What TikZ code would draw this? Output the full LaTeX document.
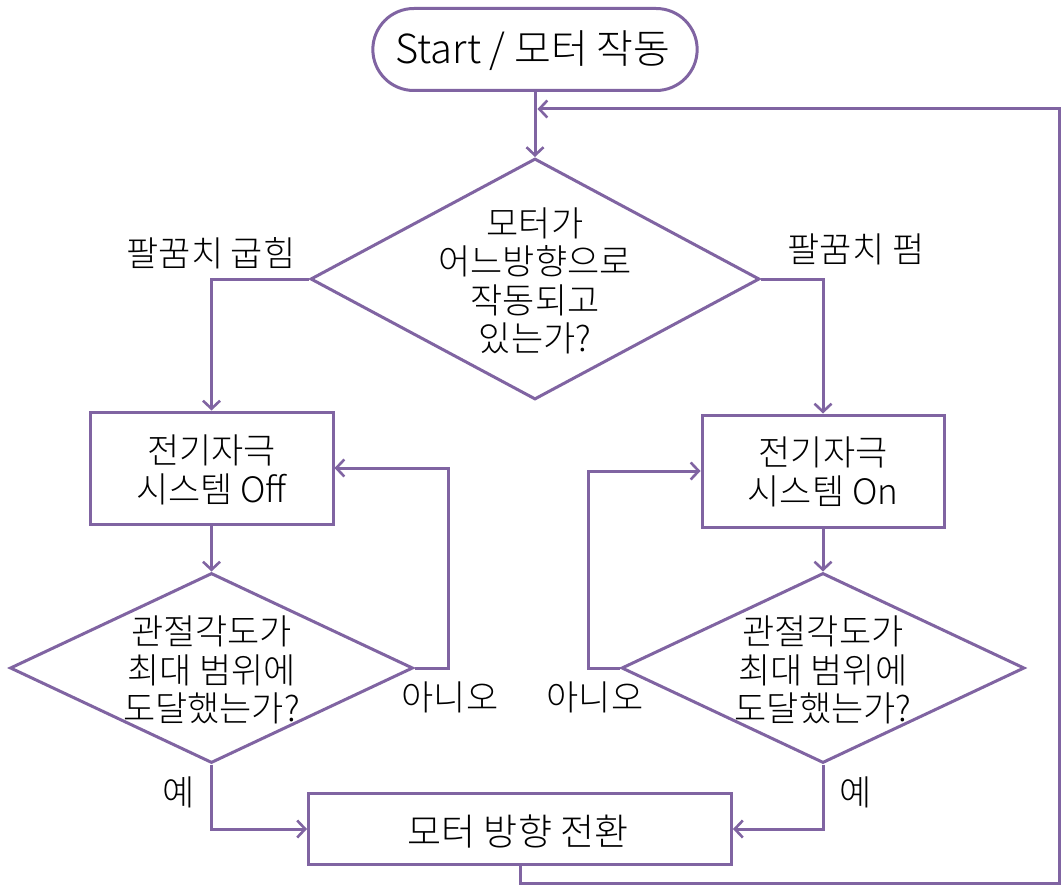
\documentclass[tikz,border=0pt]{standalone}
\usepackage{fontspec}
\setmainfont{Noto Sans CJK KR Light}
\usetikzlibrary{shapes.geometric,shapes.misc,arrows.meta}
\definecolor{pur}{RGB}{128,100,162}
\tikzset{
  x=1pt, y=-1pt,
  txt/.style={font=\fontsize{35}{38.5}\selectfont, align=center, inner sep=0pt, text=black},
  boxst/.style={draw=pur, line width=3pt, rectangle, fill=white},
  dia/.style={draw=pur, line width=3pt, diamond, inner sep=0pt},
  term/.style={draw=pur, line width=3pt, rounded rectangle, fill=white},
  conn/.style={draw=pur, line width=3pt},
  arr/.style={conn, -{Straight Barb[length=8pt,width=17pt,line width=2.6pt]}},
}
\begin{document}
\begin{tikzpicture}
\fill[white] (0,0) rectangle (1061,888);
\useasboundingbox (0,0) rectangle (1061,888);

% nodes
\node[term, minimum width=331pt, minimum height=82pt] (start) at (535,49.5) {};
\node[txt, font=\fontsize{40}{44}\selectfont] (startt) at (533,51) {Start / 모터 작동};

\node[dia, minimum width=449pt, minimum height=241pt] (d1) at (535,279) {};
\node[txt] (d1t) at (535,281) {모터가\\어느방향으로\\작동되고\\있는가?};

\node[boxst, minimum width=243pt, minimum height=112pt] (lbox) at (211.5,468) {};
\node[txt] (lboxt) at (211.5,470) {전기자극\\시스템 Off};

\node[boxst, minimum width=242pt, minimum height=112pt] (rbox) at (823,471) {};
\node[txt] (rboxt) at (823,472) {전기자극\\시스템 On};

\node[dia, minimum width=403pt, minimum height=190pt] (ld) at (211.5,668) {};
\node[txt] (ldt) at (211.5,670) {관절각도가\\최대 범위에\\도달했는가?};

\node[dia, minimum width=403pt, minimum height=190pt] (rd) at (823,668) {};
\node[txt] (rdt) at (823,670) {관절각도가\\최대 범위에\\도달했는가?};

\node[boxst, minimum width=423pt, minimum height=71pt] (bot) at (520,829) {};
\node[txt, font=\fontsize{37}{40}\selectfont] (bott) at (518,831) {모터 방향 전환};

% labels
\node[txt] (lb1) at (211,253) {팔꿈치 굽힘};
\node[txt] (lb2) at (856,249) {팔꿈치 펌};
\node[txt] (lb3) at (450,697) {아니오};
\node[txt] (lb4) at (595,697) {아니오};
\node[txt] (lb5) at (179,792) {예};
\node[txt] (lb6) at (856,792) {예};

% coordinates
\coordinate (j) at (537.5,109);
\coordinate (lb) at (520,883);
\coordinate (rb) at (1059,883);
\coordinate (rt) at (1059,109);

% connectors
\draw[arr] (start.south) -- (d1.north);
\draw[arr] (bot.south -| lb) -- (lb) -- (rb) -- (rt) -- (j);
\draw[arr] (d1.west) -| (lbox.north);
\draw[arr] (d1.east) -| (rbox.north);
\draw[arr] (lbox.south) -- (ld.north);
\draw[arr] (rbox.south) -- (rd.north);
\draw[arr] (ld.east) -- ++(34,0) |- (lbox.east);
\draw[arr] (rd.west) -- ++(-32,0) |- (rbox.west);
\draw[arr] (ld.south) |- (bot.west);
\draw[arr] (rd.south) |- (bot.east);
\end{tikzpicture}
\end{document}
